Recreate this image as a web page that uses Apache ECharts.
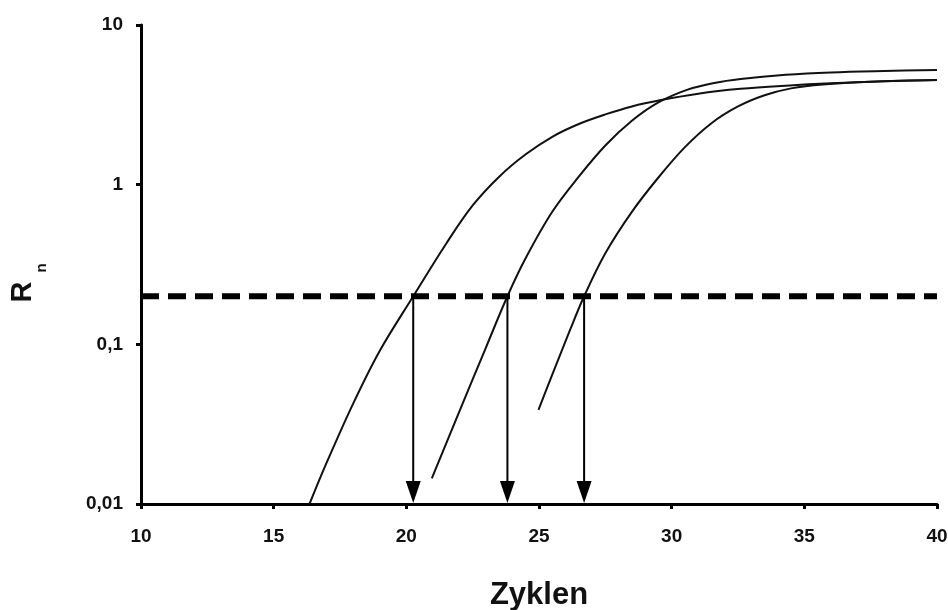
<!DOCTYPE html>
<html>
<head>
<meta charset="utf-8">
<script src="https://cdn.jsdelivr.net/npm/echarts@6/dist/echarts.min.js"></script>
<style>html,body{margin:0;padding:0;background:#fff}#c{width:948px;height:610px}</style>
</head>
<body>
<div id="c"></div>
<script>
// Cycle numbers (x) and normalized reporter signal Rn (y)
const curve1 = [[16.35,0.01],[17,0.0182],[18,0.0427],[19,0.0912],[20.26,0.2],[21.5,0.427],[22.5,0.741],[23.5,1.122],[24.5,1.549],[25.5,1.995],[26.5,2.399],[27.5,2.754],[28.5,3.09],[29.6,3.388],[31,3.715],[32.6,3.981],[34.3,4.169],[36,4.315],[38,4.436],[40,4.519]];
const curve2 = [[20.96,0.01445],[22,0.038],[23,0.0955],[23.81,0.2],[24.5,0.347],[25.5,0.676],[26.5,1.122],[27.5,1.758],[28.5,2.512],[29.5,3.273],[30.6,3.936],[31.6,4.335],[32.6,4.592],[34.3,4.875],[36,5.047],[38,5.152],[40,5.224]];
const curve3 = [[24.98,0.0388],[25.5,0.0646],[26.17,0.123],[26.7,0.2],[27.5,0.372],[28.5,0.676],[29.5,1.109],[30.5,1.718],[31.5,2.427],[32.5,3.09],[33.5,3.631],[34.5,4.009],[35.7,4.246],[37.5,4.416],[40,4.519]];
const threshold = 0.2;
const ctValues = [20.26, 23.81, 26.7];
const xTicks = [10, 15, 20, 25, 30, 35, 40];
const yTickLabels = {0.01: '0,01', 0.1: '0,1', 1: '1', 10: '10'};
const xTitle = 'Zyklen';

const FONT = 'Liberation Sans, Arial, sans-serif';
const chart = echarts.init(document.getElementById('c'), null, {renderer: 'canvas'});

const curveSeries = [curve1, curve2, curve3].map(d => ({
  type: 'line', data: d, smooth: 0.35, symbol: 'none',
  lineStyle: {color: '#111', width: 2}, z: 3
}));

chart.setOption({
  animation: false,
  backgroundColor: '#fff',
  grid: {left: 141, right: 11, top: 25, bottom: 106, containLabel: false, outerBoundsMode: 'none'},
  xAxis: {
    type: 'value', min: xTicks[0], max: xTicks[xTicks.length - 1], interval: 5,
    name: xTitle, nameLocation: 'middle', nameGap: 76,
    nameTextStyle: {fontFamily: FONT, fontWeight: 'bold', fontSize: 31, color: '#111'},
    axisLine: {lineStyle: {color: '#000', width: 3}},
    axisTick: {length: 5, lineStyle: {color: '#000', width: 3}},
    axisLabel: {fontFamily: FONT, fontWeight: 'bold', fontSize: 19, color: '#111', margin: 23},
    splitLine: {show: false}
  },
  yAxis: {
    type: 'log', logBase: 10, min: 0.01, max: 10,
    axisLine: {lineStyle: {color: '#000', width: 3}},
    axisTick: {length: 5, lineStyle: {color: '#000', width: 3}},
    minorTick: {show: false},
    axisLabel: {fontFamily: FONT, fontWeight: 'bold', fontSize: 19, color: '#111', margin: 18,
      formatter: v => yTickLabels[v] !== undefined ? yTickLabels[v] : ''},
    splitLine: {show: false}
  },
  graphic: [
    {type: 'text', x: 23, y: 292, rotation: Math.PI / 2,
      style: {text: 'R', font: 'bold 29px ' + FONT, fill: '#111', align: 'center', verticalAlign: 'middle'}},
    {type: 'text', x: 42, y: 268, rotation: Math.PI / 2,
      style: {text: 'n', font: 'bold 15px ' + FONT, fill: '#111', align: 'center', verticalAlign: 'middle'}}
  ],
  series: [
    ...curveSeries,
    {
      type: 'line', data: [[xTicks[0], threshold], [xTicks[xTicks.length - 1], threshold]],
      symbol: 'none', lineStyle: {color: '#000', width: 6, type: [18, 9]}, z: 4
    },
    {
      type: 'custom', z: 5,
      data: ctValues.map(c => [c, threshold, 0.01]),
      renderItem: function (params, api) {
        const top = api.coord([api.value(0), api.value(1)]);
        const bot = api.coord([api.value(0), api.value(2)]);
        const h = 23, w = 15;
        return {
          type: 'group',
          children: [
            {type: 'line', shape: {x1: top[0], y1: top[1], x2: bot[0], y2: bot[1] - h + 2},
              style: {stroke: '#000', lineWidth: 2}},
            {type: 'polygon', shape: {points: [[bot[0] - w / 2, bot[1] - h], [bot[0] + w / 2, bot[1] - h], [bot[0], bot[1] - 1]]},
              style: {fill: '#000'}}
          ]
        };
      }
    }
  ]
});
</script>
</body>
</html>
